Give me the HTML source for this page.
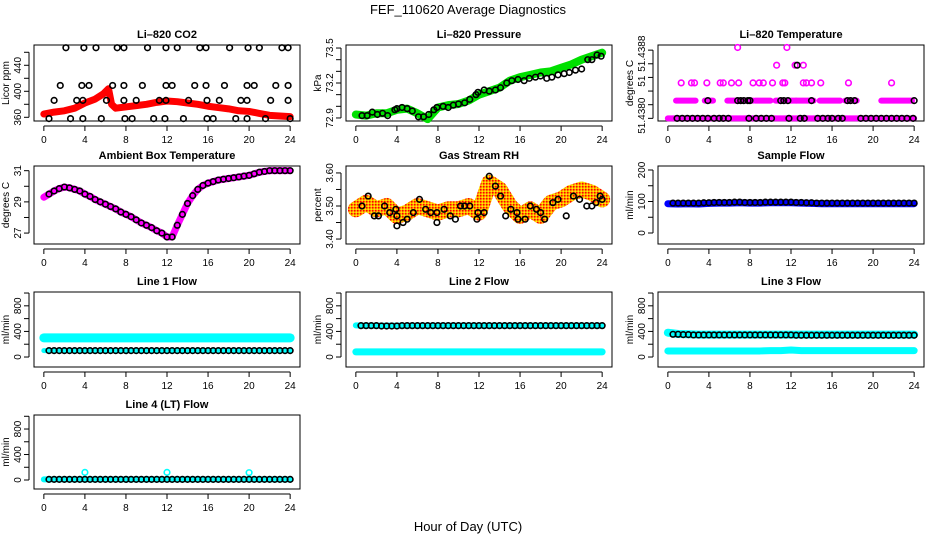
<!DOCTYPE html>
<html><head><meta charset="utf-8"><style>
html,body{margin:0;padding:0;background:#fff;}
svg{display:block;font-family:"Liberation Sans",sans-serif;}
.t{font-size:10px;fill:#000;}
.ti{font-size:11px;font-weight:bold;fill:#000;}
</style></head><body>
<svg id="chart" width="936" height="540" viewBox="0 0 936 540" xmlns="http://www.w3.org/2000/svg">
<defs>
<pattern id="rhpat" width="3" height="3" patternUnits="userSpaceOnUse">
<rect width="3" height="3" fill="#ffa500"/><rect width="1.5" height="1.5" fill="#ff0000"/><rect x="1.5" y="1.5" width="1.5" height="1.5" fill="#ffee00"/>
</pattern>
</defs>
<text x="468" y="14" text-anchor="middle" style="font-size:13px">FEF_110620  Average Diagnostics</text>
<text x="468" y="531" text-anchor="middle" style="font-size:13px">Hour of Day (UTC)</text>
</svg>
<script>
// ---- data ----
const hours = [0,1,2,3,4,5,6,7,8,9,10,11,12,13,14,15,16,17,18,19,20,21,22,23,24];
const xTicks = [0,4,8,12,16,20,24];

const co2BandX = [0,1,2,3,4,5,5.8,6.3,6.6,7,8,9,10,11,12,13,14,15,16,17,18,19,20,21,22,23,24];
const co2BandY = [365,368,370,374,382,388,396,404,380,374,376,378,380,383,385,384,382,380,377,375,373,370,369,366,363,362,361];
const co2PtsX = [2.15,3.9,5.08,7.15,7.8,10.1,11.9,13.0,15.2,15.8,18.1,19.9,21.0,23.2,23.8,
  1.6,3.7,4.4,6.7,7.8,9.6,11.9,12.5,14.7,15.8,17.6,19.8,20.5,22.6,23.8,
  1.0,3.2,3.8,6.1,7.8,9.0,11.25,11.9,14.1,15.9,17.1,19.2,19.8,22.1,23.8,
  0.5,2.6,3.8,5.6,7.9,8.6,10.7,11.8,13.6,15.9,16.5,18.7,19.8,21.6,24];
const co2PtsY = [467,467,467,467,467,467,467,467,467,467,467,467,467,467,467,
  409,409,409,409,409,409,409,409,409,409,409,409,409,409,409,
  386,386,386,386,386,386,386,386,386,386,386,386,386,386,386,
  358,358,358,358,358,358,358,358,358,358,358,358,358,358,358];

const presBand = [72.93,72.92,72.94,72.94,72.97,72.98,72.94,72.89,72.99,73.01,73.02,73.05,73.10,73.13,73.16,73.22,73.25,73.27,73.29,73.30,73.33,73.36,73.40,73.43,73.46];
const presPtsX = [0.6,1.1,1.6,2.1,2.6,3.1,3.8,4.0,4.5,5.0,5.5,6.1,6.6,7.1,7.6,7.9,8.5,9.0,9.5,10.0,10.6,11.1,11.7,11.9,12.5,13.0,13.6,14.1,14.7,15.2,15.8,16.4,16.9,17.5,18.0,18.6,19.1,19.7,20.3,20.8,21.4,22.0,22.6,23.0,23.5,23.9];
const presPtsY = [72.92,72.92,72.95,72.93,72.94,72.92,72.97,72.98,72.99,72.98,72.96,72.91,72.91,72.93,72.97,72.99,73.00,72.99,73.01,73.02,73.03,73.06,73.10,73.12,73.14,73.13,73.14,73.16,73.20,73.22,73.23,73.22,73.24,73.25,73.26,73.24,73.25,73.27,73.28,73.29,73.31,73.32,73.40,73.40,73.44,73.43];

const tempSegStart = [0,0.8,3.6,5.8,8.5,10.5,12.5,14.8,17.3,20.8];
const tempSegEnd   = [24,2.7,4.4,8.3,10.0,12.5,14.2,16.8,18.4,23.8];
const tempSegLevel = [0,1,1,1,1,1,1,1,1,1];
const tempPtsX = [1.3,2.3,2.6,3.8,5.1,5.4,6.2,6.9,8.3,8.9,9.3,10.2,11.2,11.4,13.2,13.5,14.0,14.9,17.6,21.8,10.6,12.4,13.2,6.8,11.6];
const tempPtsLevel = [2,2,2,2,2,2,2,2,2,2,2,2,2,2,2,2,2,2,2,2,3,3,3,4,4];
const tempBlackX = [0.9,1.4,1.9,2.4,2.9,3.4,3.9,4.5,5.0,5.4,5.9,7.9,8.6,9.1,9.6,10.1,11.8,12.9,13.3,14.6,15.1,15.6,16.0,16.6,17.0,18.8,19.3,19.8,20.3,20.8,21.3,21.8,22.3,22.8,23.3,23.9,3.9,6.8,7.1,7.4,7.8,8.0,11.0,11.3,11.7,14.0,17.5,17.8,18.2,24.0,12.6];
const tempBlackLevel = [0,0,0,0,0,0,0,0,0,0,0,0,0,0,0,0,0,0,0,0,0,0,0,0,0,0,0,0,0,0,0,0,0,0,0,0,1,1,1,1,1,1,1,1,1,1,1,1,1,1,3];

const ambX = [0,0.5,1,1.5,2,2.5,3,3.5,4,4.5,5,5.5,6,6.5,7,7.5,8,8.5,9,9.5,10,10.5,11,11.5,12,12.5,13,13.5,14,14.5,15,15.5,16,16.5,17,17.5,18,18.5,19,19.5,20,20.5,21,21.5,22,22.5,23,23.5,24];
const ambY = [29.3,29.5,29.7,29.85,29.95,29.9,29.8,29.7,29.5,29.35,29.15,29.0,28.85,28.7,28.55,28.35,28.2,28.05,27.85,27.65,27.5,27.35,27.15,27.0,26.75,26.75,27.5,28.2,28.9,29.4,29.8,30.05,30.2,30.3,30.4,30.45,30.5,30.55,30.6,30.65,30.7,30.8,30.9,30.95,31.0,31.0,31.0,31.0,31.0];

const rhBand = [3.49,3.51,3.49,3.50,3.47,3.48,3.50,3.49,3.48,3.49,3.49,3.50,3.48,3.57,3.55,3.50,3.47,3.49,3.47,3.51,3.52,3.54,3.55,3.54,3.52];
const rhPtsX = [0.6,1.2,1.8,2.2,2.8,3.3,3.9,4.0,4.0,4.6,5.0,5.6,6.2,6.8,7.3,7.9,7.9,8.6,9.2,9.7,10.2,10.6,11.1,11.8,11.9,12.5,13.0,13.6,14.1,14.6,15.1,15.7,15.8,16.5,17.0,17.6,18.0,18.4,19.2,19.7,20.5,21.2,21.8,22.5,23.0,23.4,23.8,24.0];
const rhPtsY = [3.50,3.53,3.47,3.47,3.50,3.48,3.49,3.44,3.47,3.45,3.46,3.48,3.52,3.49,3.48,3.48,3.45,3.49,3.47,3.46,3.50,3.50,3.50,3.46,3.48,3.48,3.59,3.56,3.53,3.47,3.49,3.48,3.46,3.46,3.50,3.49,3.48,3.46,3.51,3.52,3.47,3.53,3.52,3.50,3.50,3.51,3.53,3.52];

const sampleBand = [93,92,93,92,94,95,95,96,95,95,96,96,96,95,94,93,93,93,93,93,93,93,93,93,93];
const sampleBlack = [95,95,95,95,96,97,97,98,97,97,98,98,98,97,96,95,95,95,95,95,95,95,95,95,95];

const line1Cyan = [300,300,300,300,300,300,300,300,300,300,300,300,300,300,300,300,300,300,300,300,300,300,300,300,300];
const line1Black = [100,100,100,100,100,100,100,100,100,100,100,100,100,100,100,100,100,100,100,100,100,100,100,100,100];
const line2CyanHi = [495,490,490,490,490,490,490,490,490,490,490,490,490,490,490,490,490,490,490,490,490,490,490,490,490];
const line2CyanLo = [80,80,80,80,80,80,80,80,80,80,80,80,80,80,80,80,80,80,80,80,80,80,80,80,80];
const line2Black = [490,490,490,485,485,490,490,490,490,490,490,490,490,490,490,490,490,490,490,490,490,490,490,490,490];
const line3CyanHi = [380,360,355,350,350,350,350,350,350,350,350,350,350,350,350,350,350,350,350,350,350,350,350,350,350];
const line3CyanLo = [95,95,95,95,95,95,95,95,95,95,100,100,110,100,100,100,100,100,100,100,100,100,100,100,100];
const line3Black = [360,355,350,345,345,345,345,345,345,345,345,345,345,340,340,340,340,340,340,340,340,340,340,340,340];
const line4Cyan = [10,10,10,10,10,10,10,10,10,10,10,10,10,10,10,10,10,10,10,10,10,10,10,10,10];
const line4Black = [10,10,10,10,10,10,10,10,10,10,10,10,10,10,10,10,10,10,10,10,10,10,10,10,10];
const line4SpikeX = [4,12,20];
const line4SpikeY = [120,120,115];

// ---- drawing ----
const svg = document.getElementById('chart');
const NS = 'http://www.w3.org/2000/svg';
function mk(tag, attrs, parent){ const e=document.createElementNS(NS,tag); for(const k in attrs) e.setAttribute(k,attrs[k]); (parent||svg).appendChild(e); return e; }

const colLeft = [34,346,658];
const rowTop = [45,166,292,415];
const rowBot = [121,244,367,489];
const PW = 266;

function panel(col,row,title,name,ylab,ylim,yTicks,yLabVals,yLabTxt){
  const L=colLeft[col], T=rowTop[row], B=rowBot[row];
  const g = mk('g',{});
  
  
  const x = h => L + (h + 0.96) / 25.92 * PW;
  const y = v => B - (v - ylim[0]) / (ylim[1]-ylim[0]) * (B-T);
  const tt = mk('text',{x:L+PW/2,y:T-7,'text-anchor':'middle',class:'ti'},g); tt.textContent=title;
  
  
  const frame = mk('rect',{x:L,y:T,width:PW,height:B-T,fill:'none',stroke:'#000','stroke-width':1},g);
  
  
  const xa = mk('g',{},g);
  
  
  mk('line',{x1:x(xTicks[0]),x2:x(xTicks[xTicks.length-1]),y1:B+5,y2:B+5,stroke:'#000'},xa);
  xTicks.forEach(h=>{
    mk('line',{x1:x(h),x2:x(h),y1:B+5,y2:B+10,stroke:'#000'},xa);
    const t=mk('text',{x:x(h),y:B+22,'text-anchor':'middle',class:'t'},xa); t.textContent=h;
  });
  const ya = mk('g',{},g);
  
  
  mk('line',{x1:L-5,x2:L-5,y1:y(yTicks[0]),y2:y(yTicks[yTicks.length-1]),stroke:'#000'},ya);
  yTicks.forEach(v=>mk('line',{x1:L-10,x2:L-5,y1:y(v),y2:y(v),stroke:'#000'},ya));
  yLabVals.forEach((v,i)=>{
    const t=mk('text',{x:L-13,y:y(v),'text-anchor':'middle',class:'t',transform:`rotate(-90 ${L-13} ${y(v)})`},ya); t.textContent=yLabTxt[i];
  });
  const yt=mk('text',{x:L-25,y:(T+B)/2,'text-anchor':'middle',class:'t',transform:`rotate(-90 ${L-25} ${(T+B)/2})`},g); yt.textContent=ylab;
  
  
  return {g,x,y};
}
function band(p,xs,ys,color,w,name){
  const pl = mk('polyline',{points:xs.map((h,i)=>p.x(h)+','+p.y(ys[i])).join(' '),fill:'none',stroke:color,'stroke-width':w,'stroke-linejoin':'round','stroke-linecap':'round'},p.g);
  
  
}
function pts(p,xs,ys,color,name,r){
  const g = mk('g',{},p.g);
  
  
  xs.forEach((h,i)=>mk('circle',{cx:p.x(h),cy:p.y(ys[i]),r:r||2.8,fill:'none',stroke:color,'stroke-width':1.6},g));
}
function halfHourly(vals){ const xs=[],ys=[]; vals.forEach((v,i)=>{ if(i>0){xs.push(i-0.5);ys.push(v);} xs.push(i);ys.push(v);}); return [xs.slice(1),ys.slice(1)]; }

// Li-820 CO2
let p = panel(0,0,'Li\u2013820 CO2','co2','Licor ppm',[354.3,471.2],[360,380,400,420,440,460],[360,400,440],['360','400','440']);
band(p,co2BandX,co2BandY,'#ff0000',7,'co2-red-series');
pts(p,co2PtsX,co2PtsY,'#000','co2-black-points');

// Pressure
p = panel(1,0,'Li\u2013820 Pressure','pressure','kPa',[72.874,73.526],[72.9,73.0,73.1,73.2,73.3,73.4,73.5],[72.9,73.2,73.5],['72.9','73.2','73.5']);
band(p,hours,presBand,'#00e000',8,'pressure-green-series');
pts(p,presPtsX,presPtsY,'#000','pressure-black-points');

// Temperature (discrete levels)
p = panel(2,0,'Li\u2013820 Temperature','li820-temp','degrees C',[-0.15,4.14],[0,0.77,1.54,2.31,3.08,3.85],[0.15,2.1,3.65],['51.4380','51','51.4388']);
{ const g=mk('g',{},p.g);
  
  
  tempSegStart.forEach((s,i)=>mk('line',{x1:p.x(s),x2:p.x(tempSegEnd[i]),y1:p.y(tempSegLevel[i]),y2:p.y(tempSegLevel[i]),stroke:'#ff00ff','stroke-width':6,'stroke-linecap':'round'},g)); }
pts(p,tempPtsX,tempPtsLevel,'#ff00ff','temp-magenta-points');
pts(p,tempBlackX,tempBlackLevel,'#000','temp-black-points');

// Ambient
p = panel(0,1,'Ambient Box Temperature','ambient','degrees C',[26.3,31.3],[27,28,29,30,31],[27,29,31],['27','29','31']);
band(p,ambX,ambY,'#ff00ff',7,'ambient-magenta-series');
pts(p,ambX.slice(1),ambY.slice(1),'#000','ambient-black-points');

// RH
p = panel(1,1,'Gas Stream RH','rh','percent',[3.385,3.621],[3.40,3.45,3.50,3.55,3.60],[3.40,3.50,3.60],['3.40','3.50','3.60']);
band(p,hours,rhBand,'url(#rhpat)',16,'rh-orange-series');
pts(p,rhPtsX,rhPtsY,'#000','rh-black-points');

// Sample flow
p = panel(2,1,'Sample Flow','sample-flow','ml/min',[-34.9,212.7],[0,50,100,150,200],[0,100,200],['0','100','200']);
band(p,hours,sampleBand,'#0000ff',7,'sample-blue-series');
{ const [xs,ys]=halfHourly(sampleBlack); pts(p,xs,ys,'#000','sample-black-points'); }

const fT=[0,200,400,600,800,1000], fL=[0,400,800], fLt=['0','400','800'];
// Line 1
p = panel(0,2,'Line 1 Flow','line1','ml/min',[-156,1016],fT,fL,fLt);
band(p,hours,line1Cyan,'#00ffff',9,'line1-cyan-series');
band(p,hours,line1Black,'#00ffff',5,'line1-cyan-low-series');
{ const [xs,ys]=halfHourly(line1Black); pts(p,xs,ys,'#000','line1-black-points'); }
// Line 2
p = panel(1,2,'Line 2 Flow','line2','ml/min',[-156,1016],fT,fL,fLt);
band(p,hours,line2CyanHi,'#00ffff',6,'line2-cyan-high-series');
band(p,hours,line2CyanLo,'#00ffff',7,'line2-cyan-low-series');
{ const [xs,ys]=halfHourly(line2Black); pts(p,xs,ys,'#000','line2-black-points'); }
// Line 3
p = panel(2,2,'Line 3 Flow','line3','ml/min',[-156,1016],fT,fL,fLt);
band(p,hours,line3CyanHi,'#00ffff',8,'line3-cyan-high-series');
band(p,hours,line3CyanLo,'#00ffff',7,'line3-cyan-low-series');
{ const [xs,ys]=halfHourly(line3Black); pts(p,xs,ys,'#000','line3-black-points'); }
// Line 4
p = panel(0,3,'Line 4 (LT) Flow','line4','ml/min',[-141,1020],fT,fL,fLt);
band(p,hours,line4Cyan,'#00ffff',6,'line4-cyan-series');
pts(p,line4SpikeX,line4SpikeY,'#00ffff','line4-cyan-spikes');
{ const [xs,ys]=halfHourly(line4Black); pts(p,xs,ys,'#000','line4-black-points'); }
</script>
</body></html>
